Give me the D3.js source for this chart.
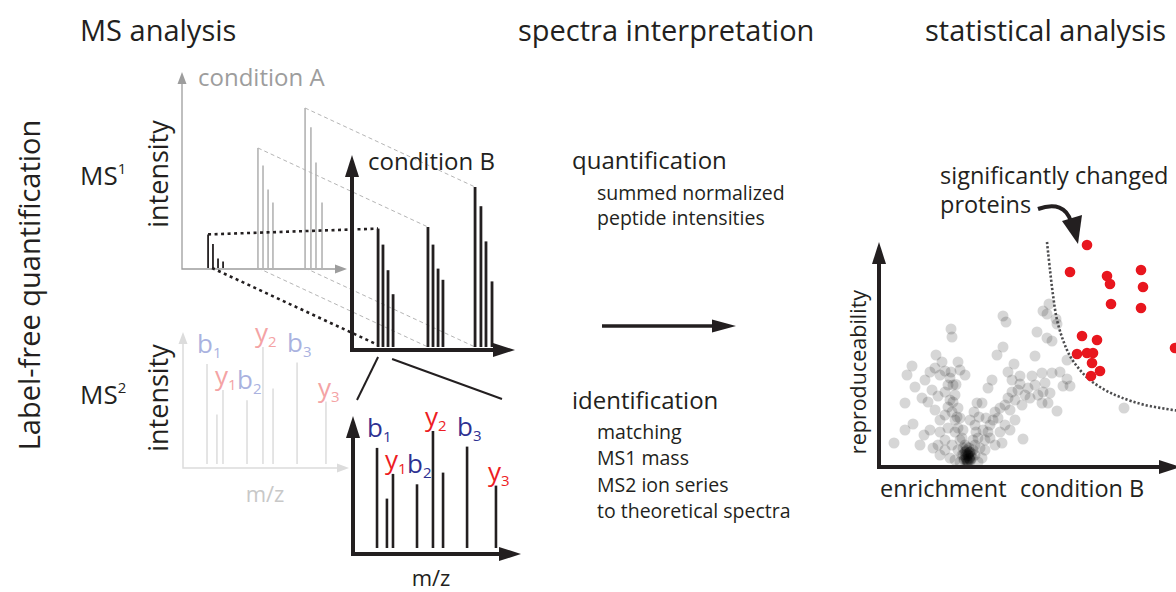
<!DOCTYPE html>
<html><head><meta charset="utf-8">
<script src="https://cdn.jsdelivr.net/npm/d3@7/dist/d3.min.js"></script>
<style>body{margin:0;background:#fff}svg{display:block}text{font-family:"Open Sans",Lato,sans-serif}</style>
</head><body><svg id="c" width="1176" height="592"></svg>
<script>
// ---------- data ----------
const ms1Mz    = [16, 19, 22.1, 25.2, 46.6, 49.7, 52.8, 55.8, 75.5, 79.1, 82.2, 85.9];
const ms1IntB  = [74, 64, 48, 33, 75, 64, 49, 42, 100, 88, 66, 41];
const ms1IntA  = [21, 15, 6, 4, 75, 64, 49, 41, 100, 88, 66, 41];
const ms1Group = [0, 0, 0, 0, 1, 1, 1, 1, 2, 2, 2, 2];
const ms2Mz    = [14.3, 20.2, 23.8, 38.1, 47.6, 53.6, 67.9, 85.1];
const ms2Int   = [77, 38, 57, 49, 90, 58, 78, 48];
const ionType  = ["b", "", "y", "b", "y", "", "b", "y"];
const ionNum   = ["1", "", "1", "2", "2", "", "3", "3"];
const greyX = [49.6,50.8,28.8,29.2,49.6,47.2,22.8,31.6,54.0,13.2,11.2,14.4,10.4,13.6,6.0,18.0,57.6,49.2,98.0,71.2,
  68.0,65.6,67.2,70.8,71.2,63.2,67.2,69.2,62.4,75.2,61.2,65.2,69.2,72.4,75.2,73.6,76.4,66.4,65.6,68.4,65.2,67.6,
  20.4,22.4,24.4,26.4,28.4,29.6,18.4,21.2,23.6,26.4,28.4,30.4,27.6,29.2,31.6,26.4,30.4,32.4,24.4,22.4,19.6,17.2,
  20.4,24.4,27.6,30.4,32.4,29.2,26.4,23.6,33.6,34.4,31.6,33.2,34.8,35.6,36.4,34.0,36.4,35.6,37.2,35.2,32.4,38.4,
  34.8,36.0,35.2,36.8,34.4,36.0,33.6,37.6,
  38.4,39.6,40.4,42.4,41.6,43.6,44.4,45.6,42.8,46.4,48.4,47.6,50.4,51.6,53.2,52.4,54.4,55.6,56.4,58.4,57.2,59.6,60.4,56.4,
  44.4,46.4,48.4,50.4,41.2,39.6,43.6,45.2,39.2,41.2,53.2,51.6,32.4,34.4,16.4,10.4,21.6,24.4,28.4,30.4,62.4,63.6,54.4,52.4,
  38.4,36.4,42.4,25.2,27.6,31.6,33.2,26.4,37.6,38.8,
  35.0,35.6,36.2,34.6,35.4,36.0,34.2,36.6,35.2,35.8,34.8,36.4,33.8,37.0,35.0,29.6,30.8,31.2,28.8,40.0,38.0];
const greyY = [60.4,58.0,55.2,52.0,48.0,44.8,44.8,42.0,41.2,40.4,36.8,32.0,25.6,17.2,9.6,12.8,11.2,9.6,23.6,22.4,
  65.2,62.4,61.2,59.2,57.2,54.0,51.6,50.4,44.4,42.8,36.4,37.6,37.6,38.0,35.2,32.4,32.4,33.6,30.0,29.6,25.6,25.6,
  38.0,39.6,36.8,38.4,35.6,32.8,34.8,30.8,28.4,30.0,26.8,28.8,24.0,22.0,23.6,20.8,18.8,19.6,18.8,22.8,26.0,27.6,
  14.8,14.0,15.6,14.0,10.8,8.8,10.8,8.8,14.8,8.8,6.8,4.8,3.6,4.8,6.0,2.8,2.8,2.0,3.6,6.8,2.0,4.8,
  4.8,3.6,2.4,4.4,6.0,7.6,7.6,6.8,
  8.8,11.6,7.6,10.8,14.8,14.0,16.8,18.8,19.6,22.0,23.6,19.6,24.8,27.6,30.0,22.8,26.8,30.8,33.2,28.8,24.8,31.6,27.6,36.4,
  11.6,8.8,14.0,16.8,3.6,2.0,31.6,34.8,25.6,25.6,34.8,38.0,38.8,36.8,8.8,14.8,7.6,4.8,3.6,2.8,32.8,28.8,18.8,14.8,
  16.8,18.8,6.8,42.0,32.8,15.6,11.6,6.8,10.8,14.0,
  3.0,2.2,3.4,4.0,5.2,5.6,3.2,2.6,1.6,4.6,6.2,6.0,5.0,5.2,8.0,26.0,33.0,20.0,38.0,20.0,22.0];
const redX = [83.2,76.4,91.2,92.4,104.8,105.6,92.8,104.8,81.2,87.2,79.2,83.2,85.6,85.2,88.4,84.8,118.4];
const redY = [88.8,78.0,76.4,73.2,78.8,72.0,65.2,63.6,52.4,50.8,45.2,45.6,45.6,41.6,38.4,36.4,47.6];
const threshX = [67.2,68.4,69.6,71.2,73.6,76.4,80.4,84.4,90.4,96.4,106.4,120.4];
const threshY = [90,78.8,68.8,58.8,50.8,44.4,38.8,34.8,30.8,28.0,24.8,22.4];

// ---------- helpers ----------
const svg = d3.select("#c");
const INK = "#231f20";
function arrowHead(g, x, y, dir, len, half, color) {
  let p;
  if (dir === "up") p = [[x, y], [x - half, y + len], [x + half, y + len]];
  else p = [[x, y], [x - len, y - half], [x - len, y + half]];
  g.append("path").attr("d", d3.line()(p) + "Z").attr("fill", color);
}
function axesL(g, ox, oy, topY, rightX, w, len, half, color) {
  g.append("path").attr("d", `M${ox},${topY + len - 1}L${ox},${oy}L${rightX - len + 1},${oy}`)
    .attr("fill", "none").attr("stroke", color).attr("stroke-width", w).attr("stroke-linejoin", "miter");
  arrowHead(g, ox, topY, "up", len, half, color);
  arrowHead(g, rightX, oy, "right", len, half, color);
}
function txt(x, y, s, size, color, anchor) {
  return svg.append("text").attr("x", x).attr("y", y).attr("font-size", size)
    .attr("fill", color || INK).attr("text-anchor", anchor || "start").text(s);
}
function rtxt(x, y, s, size, color) {
  return svg.append("text").attr("transform", `translate(${x},${y}) rotate(-90)`)
    .attr("font-size", size).attr("fill", color || INK).attr("text-anchor", "middle").text(s);
}

// ---------- headings ----------
txt(80, 41, "MS analysis", 29);
txt(518, 41, "spectra interpretation", 29);
txt(925, 41, "statistical analysis", 29);
rtxt(40, 285, "Label-free quantification", 29);
const ms1 = txt(80, 185, "MS", 26); ms1.append("tspan").attr("dy", -11).attr("font-size", 15).text("1");
const ms2t = txt(80, 404, "MS", 26); ms2t.append("tspan").attr("dy", -11).attr("font-size", 15).text("2");
rtxt(168, 174, "intensity", 27);
rtxt(168, 398, "intensity", 27);

// ---------- MS1 panels ----------
const xA = d3.scaleLinear([0, 100], [182, 345]);
const yA = d3.scaleLinear([0, 100], [268, 108]);
const xB = d3.scaleLinear([0, 100], [352, 515]);
const yB = d3.scaleLinear([0, 100], [347, 187]);
const gA = svg.append("g");
axesL(gA, xA(0), yA(0) + 1, 72, xA(100) + 2, 1.3, 12, 4.5, "#9d9d9d");
txt(198, 86, "condition A", 24, "#9d9d9d");

const gProj = svg.append("g");
[4, 8].forEach(i => {
  gProj.append("line").attr("x1", xA(ms1Mz[i])).attr("y1", yA(ms1IntA[i])).attr("x2", xB(ms1Mz[i])).attr("y2", yB(ms1IntB[i]))
    .attr("stroke", "#b5b5b5").attr("stroke-width", 1).attr("stroke-dasharray", "4,3");
  gProj.append("line").attr("x1", xA(ms1Mz[i])).attr("y1", yA(0)).attr("x2", xB(ms1Mz[i])).attr("y2", yB(0))
    .attr("stroke", "#b5b5b5").attr("stroke-width", 1).attr("stroke-dasharray", "4,3");
});
gProj.append("line").attr("x1", xA(ms1Mz[0])).attr("y1", yA(ms1IntA[0])).attr("x2", xB(ms1Mz[0])).attr("y2", yB(ms1IntB[0]))
  .attr("stroke", INK).attr("stroke-width", 2.6).attr("stroke-dasharray", "3,3.5");
gProj.append("line").attr("x1", xA(ms1Mz[0]) + 4).attr("y1", yA(0)).attr("x2", xB(ms1Mz[0])).attr("y2", yB(0) - 2)
  .attr("stroke", INK).attr("stroke-width", 2.6).attr("stroke-dasharray", "3,3.5");

gA.selectAll("line.pk").data(ms1Mz).join("line").attr("class", "pk")
  .attr("x1", d => xA(d)).attr("x2", d => xA(d)).attr("y1", yA(0))
  .attr("y2", (d, i) => yA(ms1IntA[i]))
  .attr("stroke", (d, i) => ms1Group[i] === 0 ? INK : "#a8a8a8")
  .attr("stroke-width", (d, i) => ms1Group[i] === 0 ? 1.8 : 1.4);

const gB = svg.append("g");
gB.selectAll("line.pk").data(ms1Mz).join("line").attr("class", "pk")
  .attr("x1", d => xB(d)).attr("x2", d => xB(d)).attr("y1", yB(0))
  .attr("y2", (d, i) => yB(ms1IntB[i])).attr("stroke", INK).attr("stroke-width", 2.8);
axesL(gB, xB(0), yB(0) + 3, 155, xB(100), 4, 22, 7, INK);
txt(368, 170, "condition B", 24);

svg.append("line").attr("x1", xB(ms1Mz[0])).attr("y1", 357).attr("x2", 357).attr("y2", 400).attr("stroke", INK).attr("stroke-width", 2);
svg.append("line").attr("x1", xB(ms1Mz[3]) - 1).attr("y1", 359).attr("x2", 502).attr("y2", 399).attr("stroke", INK).attr("stroke-width", 2);

// ---------- MS2 panels ----------
function ms2Panel(x0, y0, axisY, tipY, tipX, peakColor, axisColor, aw, len, half, bCol, yCol, pw) {
  const x = d3.scaleLinear([0, 100], [x0, x0 + 168]);
  const y = d3.scaleLinear([0, 100], [y0, y0 - 130]);
  const g = svg.append("g");
  g.selectAll("line").data(ms2Mz).join("line")
    .attr("x1", d => x(d)).attr("x2", d => x(d)).attr("y1", y(0))
    .attr("y2", (d, i) => y(ms2Int[i])).attr("stroke", peakColor).attr("stroke-width", pw);
  axesL(g, x(0), axisY, tipY, tipX, aw, len, half, axisColor);
  ms2Mz.forEach((d, i) => {
    if (!ionType[i]) return;
    const isB = ionType[i] === "b";
    const t = g.append("text").attr("x", x(d) - (isB ? 10 : 8)).attr("y", y(ms2Int[i]) - (isB ? 11 : 5)).attr("font-size", 26)
      .attr("fill", isB ? bCol : yCol).text(ionType[i]);
    t.append("tspan").attr("dy", 5).attr("font-size", 15).text(ionNum[i]);
  });
}
ms2Panel(183, 464, 468, 332, 349, "#dcdcdc", "#dcdcdc", 1.5, 12, 4.5, "#aab2df", "#f4a3a5", 1.5);
ms2Panel(353, 548, 554, 416, 521, INK, INK, 4, 22, 7, "#2e3192", "#ed1c24", 2.6);
txt(265, 502, "m/z", 22, "#c8c8c8", "middle");
txt(431, 586, "m/z", 22, INK, "middle");

// ---------- middle ----------
txt(572, 169, "quantification", 24);
txt(597, 200, "summed normalized", 19.5);
txt(597, 225, "peptide intensities", 19.5);
txt(572, 409, "identification", 24);
txt(597, 439, "matching", 19.5);
txt(597, 465, "MS1 mass", 19.5);
txt(597, 492, "MS2 ion series", 19.5);
txt(597, 518, "to theoretical spectra", 19.5);
{
  const g = svg.append("g");
  g.append("line").attr("x1", 602).attr("y1", 326).attr("x2", 714).attr("y2", 326).attr("stroke", INK).attr("stroke-width", 3.5);
  arrowHead(g, 736, 326, "right", 24, 6.5, INK);
}

// ---------- scatter ----------
const xS = d3.scaleLinear([0, 120], [879, 1179]);
const yS = d3.scaleLinear([0, 90], [467, 242]);
const gS = svg.append("g");
gS.selectAll("circle.g").data(greyX).join("circle").attr("class", "g")
  .attr("cx", d => xS(d)).attr("cy", (d, i) => yS(greyY[i])).attr("r", 5.5)
  .attr("fill", "#000").attr("fill-opacity", 0.16);
gS.append("path").datum(threshX.map((d, i) => [xS(d), yS(threshY[i])]))
  .attr("d", d3.line().curve(d3.curveCatmullRom)).attr("fill", "none")
  .attr("stroke", "#4d4d4f").attr("stroke-width", 2.6).attr("stroke-dasharray", "2.2,2");
gS.selectAll("circle.r").data(redX).join("circle").attr("class", "r")
  .attr("cx", d => xS(d)).attr("cy", (d, i) => yS(redY[i])).attr("r", 5.3).attr("fill", "#e8161e");
axesL(gS, xS(0), yS(0), 242, 1181, 4, 22, 7, INK);
rtxt(866, 372, "reproduceability", 21.5);
txt(880, 497, "enrichment", 23.5);
txt(1020, 497, "condition B", 23.5);
txt(940, 184, "significantly changed", 23.5);
txt(940, 213, "proteins", 23.5);
gS.append("path").attr("d", "M1038,209 C1055,203 1067,207 1071,222").attr("fill", "none").attr("stroke", INK).attr("stroke-width", 4);
gS.append("path").attr("d", "M1078,244 L1062,221 L1082,215 Z").attr("fill", INK);
</script></body></html>
